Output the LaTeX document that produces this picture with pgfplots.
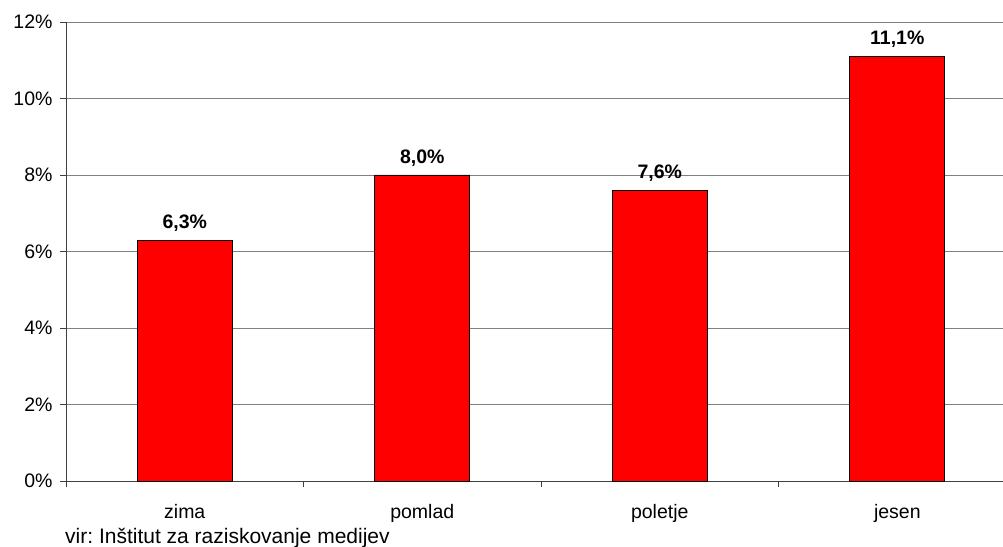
\documentclass[border=0pt]{standalone}
\usepackage{pgfplots}
\pgfplotsset{compat=1.18}
\usepackage{fontspec}
\setmainfont{Liberation Sans}
\frenchspacing
\definecolor{barred}{RGB}{255,0,0}
\definecolor{gridgray}{RGB}{128,128,128}
\definecolor{axisgray}{RGB}{64,64,64}
\begin{document}
\begin{tikzpicture}
\useasboundingbox (-66pt,-65pt) rectangle (937pt,481pt);
\begin{axis}[
  at={(0,0)}, anchor=south west,
  scale only axis,
  width=937pt, height=459pt,
  xmin=-0.5, xmax=3.445,
  ymin=0, ymax=12,
  axis lines*=left,
  axis line style={axisgray, line width=0.8pt},
  ytick={0,2,4,6,8,10,12},
  yticklabels={0\%,2\%,4\%,6\%,8\%,10\%,12\%},
  ymajorgrids,
  grid style={gridgray, line width=0.8pt},
  tick align=outside,
  major tick length=6pt,
  tick style={axisgray, line width=0.8pt},
  xtick={-0.5,0.5,1.5,2.5},
  xticklabels={},
  extra x ticks={0,1,2,3},
  extra x tick labels={zima,pomlad,poletje,jesen},
  extra x tick style={major tick length=0pt, grid=none, xticklabel style={yshift=-20pt}},
  tick label style={font=\fontsize{19.5}{22}\selectfont},
  yticklabel style={xshift=-4pt},
  clip=false,
]
\addplot[ybar, bar width=95pt, fill=barred, draw=black, line width=0.8pt,
  point meta=explicit symbolic,
  nodes near coords,
  nodes near coords style={font=\fontsize{19.5}{22}\selectfont\bfseries, yshift=5pt},
] coordinates {(0,6.3)[6,3\%] (1,8.0)[8,0\%] (2,7.6)[7,6\%] (3,11.1)[11,1\%]};
\end{axis}
\node[anchor=west, font=\fontsize{21}{24}\selectfont, inner sep=0pt] at (-1pt,-57pt) {vir: Inštitut za raziskovanje medijev};
\end{tikzpicture}
\end{document}
